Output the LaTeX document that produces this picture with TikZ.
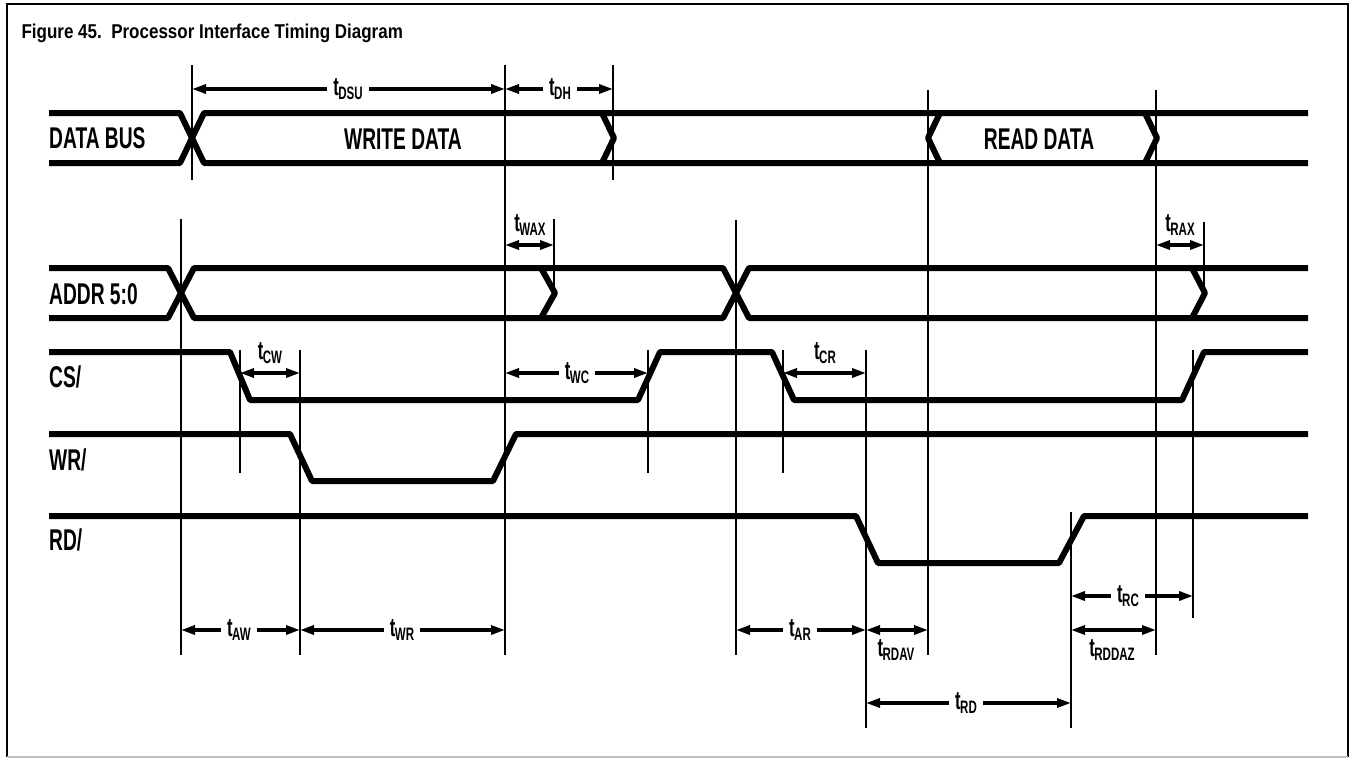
\documentclass[tikz,border=0pt]{standalone}
\usepackage{fontspec}
\setmainfont{Liberation Sans}[FakeStretch=0.64]
\newfontfamily\titlefont{Liberation Sans}[FakeStretch=0.85]
\usetikzlibrary{arrows.meta}
% t with a lowered subscript, as in the data sheet
\newcommand{\tdel}[1]{\fontsize{26}{26}\selectfont t\kern-0.5pt\raisebox{-4pt}{\fontsize{18}{18}\selectfont #1}}
\tikzset{
  wave/.style   ={line width=6pt, line join=round},
  vline/.style  ={line width=2.8pt},
  dim/.style    ={line width=3.2pt, -{Triangle[length=14pt,width=9pt]}},
  dimboth/.style={line width=3.2pt, {Triangle[length=14pt,width=9pt]}-{Triangle[length=14pt,width=9pt]}},
  sig/.style    ={anchor=west, inner sep=0pt, font=\fontsize{30}{30}\selectfont\bfseries},
  bus/.style    ={inner sep=0pt, font=\fontsize{30}{30}\selectfont\bfseries},
  tlab/.style   ={inner xsep=6pt, inner ysep=2pt, font=\bfseries},
  tup/.style    ={tlab, anchor=south, inner ysep=9pt},
  tdown/.style  ={tlab, anchor=north, inner ysep=9pt},
  frame/.style  ={line width=2.4pt},
}

\begin{document}
\begin{tikzpicture}[x=1pt,y=-1pt]
    \useasboundingbox (0,0) rectangle (1355,760);
    \draw[frame] (7,757) -- (7,4) -- (1348,4) -- (1348,757);
    \draw[frame, black!25] (7,757) -- (1348,757);
    \node[anchor=west, font=\titlefont\fontsize{20}{20}\selectfont\bfseries] (title) at (18,33)
      {Figure 45.\ \ Processor Interface Timing Diagram};

    % signal names
    \node[sig] (data) at (49,138) {DATA BUS};
    \node[sig] (addr) at (49,294) {ADDR 5:0};
    \node[sig] (cs)   at (49,377) {CS/};
    \node[sig] (wr)   at (49,460) {WR/};
    \node[sig] (rd)   at (49,540) {RD/};

    % waveforms
    \draw[wave] (49,113) -- (180,113) -- (204,163) -- (1308,163);
    \draw[wave] (49,163) -- (180,163) -- (204,113) -- (1308,113);
    \draw[wave] (602,113) -- (614,138) -- (602,163);
    \draw[wave] (940,113) -- (928,138) -- (940,163);
    \draw[wave] (1145,113) -- (1157,138) -- (1145,163);
    \node[bus] (wdata) at (403,139) {WRITE DATA};
    \node[bus] (rdata) at (1039,139) {READ DATA};
    \draw[wave] (49,268) -- (168,268) -- (194,318) -- (723,318) -- (749,268) -- (1308,268);
    \draw[wave] (49,318) -- (168,318) -- (194,268) -- (723,268) -- (749,318) -- (1308,318);
    \draw[wave] (541,268) -- (555,293) -- (541,318);
    \draw[wave] (1192,268) -- (1205,293) -- (1192,318);
    \draw[wave] (49,352) -- (230,352) -- (250,400) -- (638,400) -- (660,352) -- (772,352)
      -- (794,400) -- (1182,400) -- (1204,352) -- (1308,352);
    \draw[wave] (49,434) -- (290,434) -- (312,481) -- (493,481) -- (516,434) -- (1308,434);
    \draw[wave] (49,516) -- (856,516) -- (878,563) -- (1059,563) -- (1084,516) -- (1308,516);

    % reference edges
    \foreach \n/\x/\a/\b in {v1/192/65/180, v2/505/65/655, v3/613/65/180, v4/181/219/655,
        v5/554/219/293, v6/240/350/473, v7/300/350/655, v8/648/350/473, v9/736/220/655,
        v10/783/350/473, v11/866/350/728, v12/928/90/655, v13/1156/90/655,
        v14/1204/222/293, v15/1193/350/618, v16/1071/512/728}
      \draw[vline] (\x,\a) coordinate (\n) -- (\x,\b);

    % timing parameters
    \node[tlab] (tdsu) at (348,89) {\tdel{DSU}};
    \draw[dim] (tdsu) -- (v1 |- tdsu);  \draw[dim] (tdsu) -- (v2 |- tdsu);
    \node[tlab] (tdh) at (560,89) {\tdel{DH}};
    \draw[dim] (tdh) -- (v2 |- tdh);    \draw[dim] (tdh) -- (v3 |- tdh);
    \node[tup] (twax) at (530,245) {\tdel{WAX}};
    \draw[dimboth] (v2 |- twax.south) -- (v5 |- twax.south);
    \node[tup] (trax) at (1180,245) {\tdel{RAX}};
    \draw[dimboth] (v13 |- trax.south) -- (v14 |- trax.south);
    \node[tup] (tcw) at (270,373) {\tdel{CW}};
    \draw[dimboth] (v6 |- tcw.south) -- (v7 |- tcw.south);
    \node[tlab] (twc) at (577,373) {\tdel{WC}};
    \draw[dim] (twc) -- (v2 |- twc);    \draw[dim] (twc) -- (v8 |- twc);
    \node[tup] (tcr) at (825,373) {\tdel{CR}};
    \draw[dimboth] (v10 |- tcr.south) -- (v11 |- tcr.south);
    \node[tlab] (taw) at (239,630) {\tdel{AW}};
    \draw[dim] (taw) -- (v4 |- taw);    \draw[dim] (taw) -- (v7 |- taw);
    \node[tlab] (twr) at (402,630) {\tdel{WR}};
    \draw[dim] (twr) -- (v7 |- twr);    \draw[dim] (twr) -- (v2 |- twr);
    \node[tlab] (tar) at (800,630) {\tdel{AR}};
    \draw[dim] (tar) -- (v9 |- tar);    \draw[dim] (tar) -- (v11 |- tar);
    \node[tdown] (trdav) at (896,630) {\tdel{RDAV}};
    \draw[dimboth] (v11 |- trdav.north) -- (v12 |- trdav.north);
    \node[tdown] (trddaz) at (1112,630) {\tdel{RDDAZ}};
    \draw[dimboth] (v16 |- trddaz.north) -- (v13 |- trddaz.north);
    \node[tlab] (trc) at (1128,596) {\tdel{RC}};
    \draw[dim] (trc) -- (v16 |- trc);   \draw[dim] (trc) -- (v15 |- trc);
    \node[tlab] (trd) at (966,703) {\tdel{RD}};
    \draw[dim] (trd) -- (v11 |- trd);   \draw[dim] (trd) -- (v16 |- trd);
\end{tikzpicture}
\end{document}
